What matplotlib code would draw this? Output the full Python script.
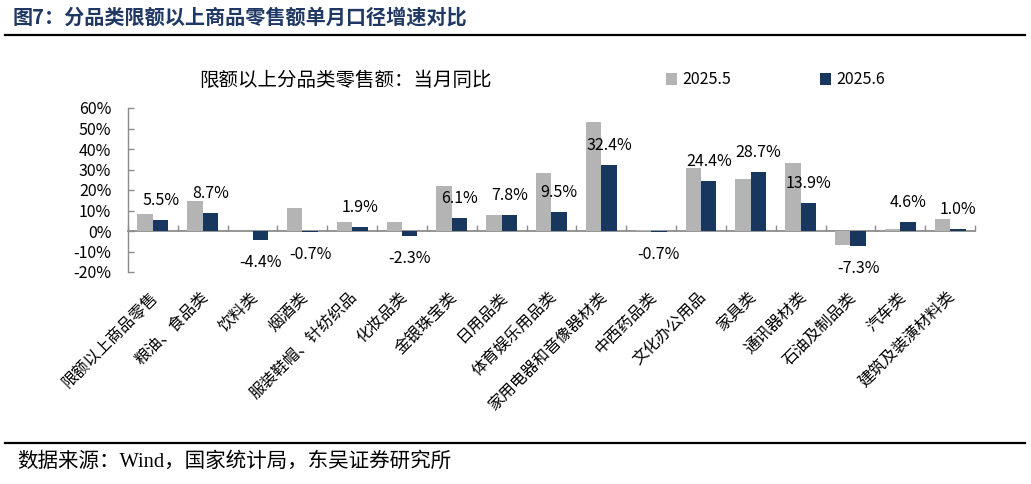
import matplotlib
matplotlib.use("Agg")
import matplotlib.pyplot as plt
import matplotlib.transforms as mtransforms
from matplotlib.patches import Patch
from matplotlib.lines import Line2D
import numpy as np

plt.rcParams['font.family'] = ['Noto Sans CJK SC', 'DejaVu Sans']
plt.rcParams['axes.unicode_minus'] = False

categories = ['限额以上商品零售', '粮油、食品类', '饮料类', '烟酒类', '服装鞋帽、针纺织品',
              '化妆品类', '金银珠宝类', '日用品类', '体育娱乐用品类', '家用电器和音像器材类',
              '中西药品类', '文化办公用品', '家具类', '通讯器材类', '石油及制品类', '汽车类',
              '建筑及装潢材料类']
may_2025 = [8.1, 14.6, -0.1, 11.2, 4.2, 4.4, 21.8, 8.0, 28.3, 53.0, 0.5, 30.5, 25.6, 33.0, -7.0, 1.1, 5.8]
jun_2025 = [5.5, 8.7, -4.4, -0.7, 1.9, -2.3, 6.1, 7.8, 9.5, 32.4, -0.7, 24.4, 28.7, 13.9, -7.3, 4.6, 1.0]
series_names = ['2025.5', '2025.6']
yticks = [-20, -10, 0, 10, 20, 30, 40, 50, 60]

GRAY = '#B4B4B4'
NAVY = '#17375E'
AXC = '#8C8C8C'

W, H = 1031, 484
fig = plt.figure(figsize=(W / 100, H / 100), dpi=100)

# header
fig.text(13 / W, 1 - 17 / H, '图7：分品类限额以上商品零售额单月口径增速对比', fontsize=14.5,
         fontweight='bold', color='#1F3864', ha='left', va='center')
fig.add_artist(Line2D([5 / W, 1025 / W], [1 - 35 / H, 1 - 35 / H], color='black', lw=1.6))
fig.add_artist(Line2D([5 / W, 1025 / W], [1 - 443 / H, 1 - 443 / H], color='black', lw=1.6))
fig.text(17 / W, 1 - 462 / H, '数据来源：Wind，国家统计局，东吴证券研究所', fontsize=14.8,
         family=['Liberation Serif', 'Noto Sans CJK SC'], ha='left', va='center', color='black')

ax = fig.add_axes([128 / W, 1 - 272 / H, (975 - 128) / W, (272 - 108) / H])
x = np.arange(len(categories))
bw = 0.31
ax.bar(x - bw / 2, may_2025, width=bw, color=GRAY, label=series_names[0], zorder=3)
ax.bar(x + bw / 2, jun_2025, width=bw, color=NAVY, label=series_names[1], zorder=3)

ax.set_xlim(-0.5, len(categories) - 0.5)
ax.set_ylim(-20, 60)
ax.set_yticks(yticks)
ax.set_yticklabels([f'{v}%' for v in yticks])
ax.tick_params(axis='y', direction='in', length=4, width=1, color=AXC, pad=12,
               labelsize=11.5, labelcolor='black')

for s in ['top', 'right']:
    ax.spines[s].set_visible(False)
ax.spines['left'].set_color(AXC)
ax.spines['left'].set_linewidth(1)
ax.spines['bottom'].set_position(('data', 0))
ax.spines['bottom'].set_color(AXC)
ax.spines['bottom'].set_linewidth(1.3)
ax.spines['bottom'].set_zorder(2)
ax.set_xticks(x)
ax.set_xticklabels([])
ax.tick_params(axis='x', which='major', length=0)
ax.set_xticks(np.arange(-0.5, len(categories), 1.0), minor=True)
ax.tick_params(axis='x', which='minor', direction='in', length=4, width=1, color=AXC)

sec = ax.secondary_xaxis('bottom')
sec.set_xticks(x)
sec.set_xticklabels(categories, rotation=45, ha='right', rotation_mode='anchor', fontsize=11.5)
sec.tick_params(length=0, pad=12)
sec.spines['bottom'].set_visible(False)
off = mtransforms.ScaledTranslation(-3 / 100, 0, fig.dpi_scale_trans)
for lab in sec.get_xticklabels():
    lab.set_transform(lab.get_transform() + off)

for xi, v in zip(x, jun_2025):
    if v >= 0:
        ax.annotate(f'{v:.1f}%', (xi + bw / 2, v), xytext=(0, 11), textcoords='offset pixels',
                    ha='center', va='bottom', fontsize=11.5, zorder=4)
    else:
        ax.annotate(f'{v:.1f}%', (xi + bw / 2, v), xytext=(0, -14), textcoords='offset pixels',
                    ha='center', va='top', fontsize=11.5, zorder=4)

fig.text(345 / W, 1 - 80 / H, '限额以上分品类零售额：当月同比', fontsize=14, ha='center', va='center')

handles = [Patch(facecolor=GRAY), Patch(facecolor=NAVY)]
fig.legend(handles, series_names, loc='center left', bbox_to_anchor=(666 / W, 1 - 80 / H),
           ncol=2, frameon=False, fontsize=11.5, handlelength=0.7, handleheight=0.7,
           handletextpad=0.3, columnspacing=5.6, borderpad=0, borderaxespad=0)

fig.savefig('out.png', dpi=100)
